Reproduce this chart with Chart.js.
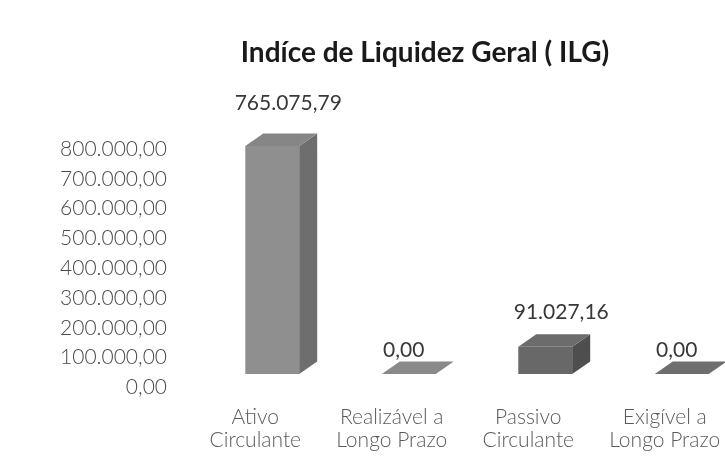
<!DOCTYPE html>
<html>
<head>
<meta charset="utf-8">
<script src="https://cdn.jsdelivr.net/npm/chart.js@4.4.1/dist/chart.umd.min.js"></script>
<style>
  html, body { margin: 0; padding: 0; background: #fff; overflow: hidden; }
  #wrap { width: 850px; height: 457px; }
</style>
</head>
<body>
<div id="wrap"><canvas id="cvs"></canvas></div>
<script>
/* ===== dados ===== */
const TITLE = 'Indíce de Liquidez Geral ( ILG)';
const CATEGORIES = [['Ativo', 'Circulante'], ['Realizável a', 'Longo Prazo'], ['Passivo', 'Circulante'], ['Exigível a', 'Longo Prazo']];
const VALUES = [765075.79, 0, 91027.16, 0];
const Y_MIN = 0, Y_MAX = 800000, Y_STEP = 100000;

/* ===== estilo ===== */
const FRONT = ['#8f8f8f', '#898989', '#686868', '#707070'];
const SIDE  = ['#6e6e6e', '#6a6a6a', '#4e4e4e', '#575757'];
const TOP   = ['#868686', '#898989', '#6c6c6c', '#6e6e6e'];
const DEPTH = { dx: 18, dy: -12.5 };   // falso 3D (lado + topo)

const fmtBR = v => {
  const [i, d] = Math.abs(v).toFixed(2).split('.');
  return (v < 0 ? '-' : '') + i.replace(/\B(?=(\d{3})+(?!\d))/g, '.') + ',' + d;
};

// desenha lado, topo e rótulo de cada barra
const bar3d = {
  id: 'bar3d',
  afterDatasetsDraw(c) {
    const { ctx } = c, meta = c.getDatasetMeta(0), { dx, dy } = DEPTH;
    ctx.save();
    meta.data.forEach((b, i) => {
      const { x, y, base, width } = b.getProps(['x', 'y', 'base', 'width'], true);
      const l = x - width / 2, r = x + width / 2, h = base - y;
      ctx.fillStyle = SIDE[i];
      ctx.beginPath();
      ctx.moveTo(r, y); ctx.lineTo(r + dx, y + dy); ctx.lineTo(r + dx, base + dy); ctx.lineTo(r, base);
      ctx.closePath(); ctx.fill();
      ctx.fillStyle = TOP[i];
      ctx.beginPath();
      ctx.moveTo(l, y); ctx.lineTo(l + dx, y + dy); ctx.lineTo(r + dx, y + dy); ctx.lineTo(r, y);
      ctx.closePath(); ctx.fill();

      ctx.font = '21px Lato';
      ctx.fillStyle = '#383838';
      ctx.textAlign = 'center';
      ctx.textBaseline = 'middle';
      ctx.fillText(fmtBR(VALUES[i]), x + (h > 0 ? 16 : -5), y - 24 - (h > 0 ? 10 + h * 0.04 : 0));
    });
    ctx.restore();
  }
};

new Chart(document.getElementById('cvs'), {
  type: 'bar',
  data: {
    labels: CATEGORIES,
    datasets: [{
      data: VALUES,
      backgroundColor: FRONT,
      borderWidth: 0,
      barPercentage: 0.395,
      categoryPercentage: 1
    }]
  },
  options: {
    responsive: true, maintainAspectRatio: false, animation: false,
    layout: { padding: 0 },
    plugins: {
      legend: { display: false },
      tooltip: { enabled: false },
      title: {
        display: true, text: TITLE, color: '#1a1a1a',
        font: { family: 'Lato', size: 28, weight: 'bold', lineHeight: 1.2 },
        padding: { top: 36.2, bottom: 65.8 }
      }
    },
    scales: {
      x: {
        grid: { display: false, drawTicks: false },
        border: { display: false },
        ticks: {
          padding: 32, labelOffset: -17, maxRotation: 0, autoSkip: false, color: '#5a5a5a',
          font: { family: 'Lato', size: 21, weight: '300', lineHeight: 1.1 }
        },
        afterFit: s => { s.height = 83; }
      },
      y: {
        min: Y_MIN, max: Y_MAX,
        grid: { display: false, drawTicks: false },
        border: { display: false },
        ticks: {
          stepSize: Y_STEP, padding: 37, labelOffset: 13.5, color: '#4a4a4a',
          font: { family: 'Lato', size: 21, weight: '300' },
          callback: v => fmtBR(v)
        },
        afterFit: s => { s.width = 204; }
      },
      // eixo vazio à direita: a área do gráfico passa da janela (corte como no original)
      yRight: {
        position: 'right',
        grid: { display: false, drawTicks: false },
        border: { display: false },
        ticks: { display: false },
        afterFit: s => { s.width = 100; }
      }
    }
  },
  plugins: [bar3d]
});
</script>
</body>
</html>
